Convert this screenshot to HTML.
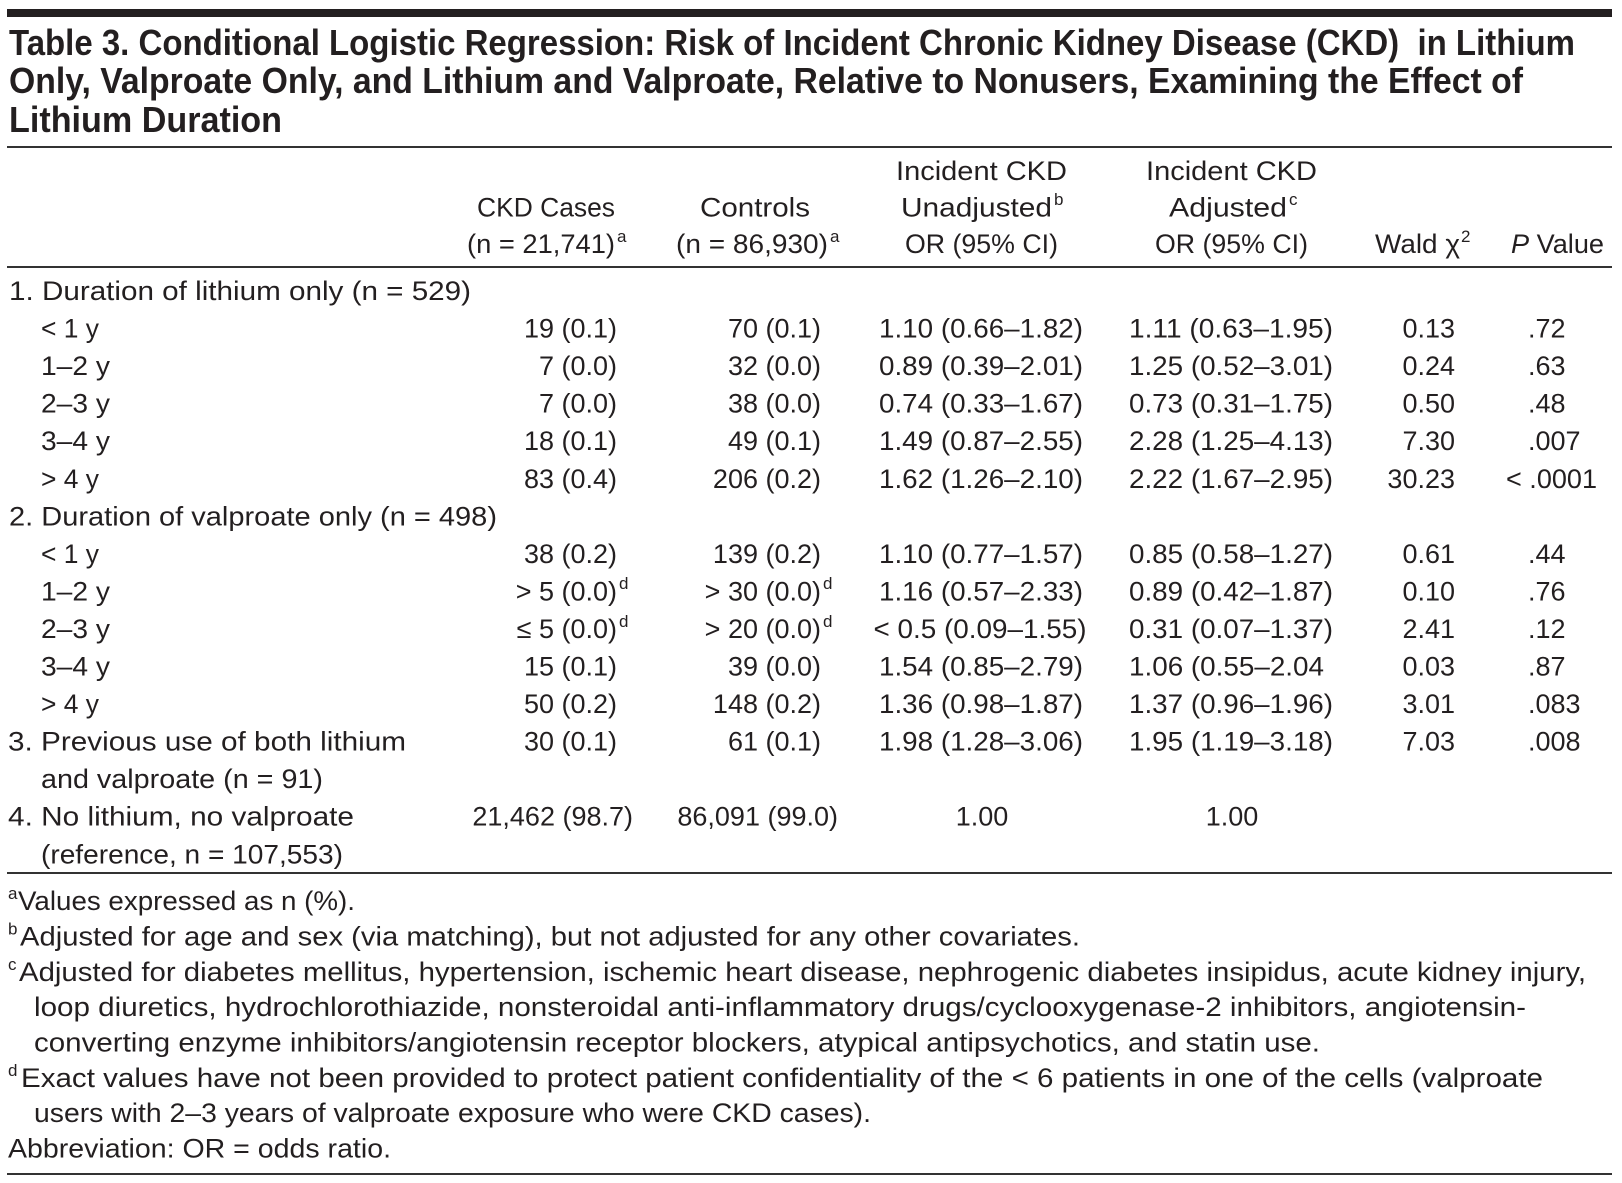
<!DOCTYPE html>
<html><head><meta charset="utf-8"><style>
html,body{margin:0;padding:0;background:#fff;}
svg{display:block;}
text{font-family:"Liberation Sans",sans-serif;fill:#231f20;font-size:27px;}
.t{font-weight:bold;font-size:36px;}
.s{font-size:17px;}
</style></head><body>
<svg width="1622" height="1183" viewBox="0 0 1622 1183" xmlns="http://www.w3.org/2000/svg">
<rect x="0" y="0" width="1622" height="1183" fill="#fff"/>
<rect x="7" y="9" width="1605" height="8" fill="#231f20"/>
<text class="t" x="9" y="55" textLength="1566" lengthAdjust="spacingAndGlyphs">Table 3. Conditional Logistic Regression: Risk of Incident Chronic Kidney Disease (CKD)&#160; in Lithium</text>
<text class="t" x="9" y="93" textLength="1514" lengthAdjust="spacingAndGlyphs">Only, Valproate Only, and Lithium and Valproate, Relative to Nonusers, Examining the Effect of</text>
<text class="t" x="9" y="132" textLength="273" lengthAdjust="spacingAndGlyphs">Lithium Duration</text>
<rect x="7" y="146" width="1605" height="2" fill="#333"/>

<!-- header -->
<text x="896" y="180" textLength="171" lengthAdjust="spacingAndGlyphs">Incident CKD</text>
<text x="901" y="216.5" textLength="151" lengthAdjust="spacingAndGlyphs">Unadjusted</text>
<text class="s" x="1054" y="205">b</text>
<text x="905" y="253" textLength="153" lengthAdjust="spacingAndGlyphs">OR (95% CI)</text>
<text x="1146" y="180" textLength="171" lengthAdjust="spacingAndGlyphs">Incident CKD</text>
<text x="1169" y="216.5" textLength="118" lengthAdjust="spacingAndGlyphs">Adjusted</text>
<text class="s" x="1289" y="205">c</text>
<text x="1155" y="253" textLength="153" lengthAdjust="spacingAndGlyphs">OR (95% CI)</text>
<text x="477" y="216.5" textLength="138" lengthAdjust="spacingAndGlyphs">CKD Cases</text>
<text x="467" y="253" textLength="148" lengthAdjust="spacingAndGlyphs">(n = 21,741)</text>
<text class="s" x="617" y="242">a</text>
<text x="700" y="216.5" textLength="110" lengthAdjust="spacingAndGlyphs">Controls</text>
<text x="676" y="253" textLength="152" lengthAdjust="spacingAndGlyphs">(n = 86,930)</text>
<text class="s" x="830" y="242">a</text>
<text x="1375" y="253" textLength="85" lengthAdjust="spacingAndGlyphs">Wald χ</text>
<text class="s" x="1461" y="242">2</text>
<text x="1511" y="253" textLength="93" lengthAdjust="spacingAndGlyphs"><tspan font-style="italic">P</tspan> Value</text>
<rect x="7" y="266" width="1605" height="2" fill="#333"/>

<!-- row labels -->
<text x="9" y="300" textLength="462" lengthAdjust="spacingAndGlyphs">1. Duration of lithium only (n = 529)</text>
<text x="41" y="337.6" textLength="58" lengthAdjust="spacingAndGlyphs">&lt; 1 y</text>
<text x="41" y="375.1" textLength="69" lengthAdjust="spacingAndGlyphs">1–2 y</text>
<text x="41" y="412.7" textLength="69" lengthAdjust="spacingAndGlyphs">2–3 y</text>
<text x="41" y="450.2" textLength="69" lengthAdjust="spacingAndGlyphs">3–4 y</text>
<text x="41" y="487.8" textLength="58" lengthAdjust="spacingAndGlyphs">&gt; 4 y</text>
<text x="9" y="525.3" textLength="488" lengthAdjust="spacingAndGlyphs">2. Duration of valproate only (n = 498)</text>
<text x="41" y="562.9" textLength="58" lengthAdjust="spacingAndGlyphs">&lt; 1 y</text>
<text x="41" y="600.4" textLength="69" lengthAdjust="spacingAndGlyphs">1–2 y</text>
<text x="41" y="638" textLength="69" lengthAdjust="spacingAndGlyphs">2–3 y</text>
<text x="41" y="675.5" textLength="69" lengthAdjust="spacingAndGlyphs">3–4 y</text>
<text x="41" y="713.1" textLength="58" lengthAdjust="spacingAndGlyphs">&gt; 4 y</text>
<text x="8" y="750.6" textLength="398" lengthAdjust="spacingAndGlyphs">3. Previous use of both lithium</text>
<text x="41" y="788.2" textLength="282" lengthAdjust="spacingAndGlyphs">and valproate (n = 91)</text>
<text x="8" y="825.7" textLength="346" lengthAdjust="spacingAndGlyphs">4. No lithium, no valproate</text>
<text x="41" y="863.3" textLength="302" lengthAdjust="spacingAndGlyphs">(reference, n = 107,553)</text>

<!-- cases column (right aligned 617) -->
<g text-anchor="end">
<text x="617" y="337.6">19 (0.1)</text>
<text x="617" y="375.1">7 (0.0)</text>
<text x="617" y="412.7">7 (0.0)</text>
<text x="617" y="450.2">18 (0.1)</text>
<text x="617" y="487.8">83 (0.4)</text>
<text x="617" y="562.9">38 (0.2)</text>
<text x="617" y="600.4">&gt; 5 (0.0)</text>
<text x="617" y="638">≤ 5 (0.0)</text>
<text x="617" y="675.5">15 (0.1)</text>
<text x="617" y="713.1">50 (0.2)</text>
<text x="617" y="750.6">30 (0.1)</text>
<text x="633" y="825.7">21,462 (98.7)</text>
</g>
<text class="s" x="619" y="589">d</text>
<text class="s" x="619" y="627">d</text>

<!-- controls column (right aligned 821) -->
<g text-anchor="end">
<text x="821" y="337.6">70 (0.1)</text>
<text x="821" y="375.1">32 (0.0)</text>
<text x="821" y="412.7">38 (0.0)</text>
<text x="821" y="450.2">49 (0.1)</text>
<text x="821" y="487.8">206 (0.2)</text>
<text x="821" y="562.9">139 (0.2)</text>
<text x="821" y="600.4">&gt; 30 (0.0)</text>
<text x="821" y="638">&gt; 20 (0.0)</text>
<text x="821" y="675.5">39 (0.0)</text>
<text x="821" y="713.1">148 (0.2)</text>
<text x="821" y="750.6">61 (0.1)</text>
<text x="838" y="825.7">86,091 (99.0)</text>
</g>
<text class="s" x="823" y="589">d</text>
<text class="s" x="823" y="627">d</text>

<!-- unadjusted OR (centered 981) -->
<g text-anchor="middle">
<text x="981" y="337.6" textLength="204" lengthAdjust="spacingAndGlyphs">1.10 (0.66–1.82)</text>
<text x="981" y="375.1" textLength="204" lengthAdjust="spacingAndGlyphs">0.89 (0.39–2.01)</text>
<text x="981" y="412.7" textLength="204" lengthAdjust="spacingAndGlyphs">0.74 (0.33–1.67)</text>
<text x="981" y="450.2" textLength="204" lengthAdjust="spacingAndGlyphs">1.49 (0.87–2.55)</text>
<text x="981" y="487.8" textLength="204" lengthAdjust="spacingAndGlyphs">1.62 (1.26–2.10)</text>
<text x="981" y="562.9" textLength="204" lengthAdjust="spacingAndGlyphs">1.10 (0.77–1.57)</text>
<text x="981" y="600.4" textLength="204" lengthAdjust="spacingAndGlyphs">1.16 (0.57–2.33)</text>
<text x="980" y="638" textLength="213" lengthAdjust="spacingAndGlyphs">&lt; 0.5 (0.09–1.55)</text>
<text x="981" y="675.5" textLength="204" lengthAdjust="spacingAndGlyphs">1.54 (0.85–2.79)</text>
<text x="981" y="713.1" textLength="204" lengthAdjust="spacingAndGlyphs">1.36 (0.98–1.87)</text>
<text x="981" y="750.6" textLength="204" lengthAdjust="spacingAndGlyphs">1.98 (1.28–3.06)</text>
<text x="982" y="825.7">1.00</text>
<text x="1232" y="825.7">1.00</text>
</g>

<!-- adjusted OR (left 1129) -->
<g>
<text x="1129" y="337.6" textLength="204" lengthAdjust="spacingAndGlyphs">1.11 (0.63–1.95)</text>
<text x="1129" y="375.1" textLength="204" lengthAdjust="spacingAndGlyphs">1.25 (0.52–3.01)</text>
<text x="1129" y="412.7" textLength="204" lengthAdjust="spacingAndGlyphs">0.73 (0.31–1.75)</text>
<text x="1129" y="450.2" textLength="204" lengthAdjust="spacingAndGlyphs">2.28 (1.25–4.13)</text>
<text x="1129" y="487.8" textLength="204" lengthAdjust="spacingAndGlyphs">2.22 (1.67–2.95)</text>
<text x="1129" y="562.9" textLength="204" lengthAdjust="spacingAndGlyphs">0.85 (0.58–1.27)</text>
<text x="1129" y="600.4" textLength="204" lengthAdjust="spacingAndGlyphs">0.89 (0.42–1.87)</text>
<text x="1129" y="638" textLength="204" lengthAdjust="spacingAndGlyphs">0.31 (0.07–1.37)</text>
<text x="1129" y="675.5" textLength="195" lengthAdjust="spacingAndGlyphs">1.06 (0.55–2.04</text>
<text x="1129" y="713.1" textLength="204" lengthAdjust="spacingAndGlyphs">1.37 (0.96–1.96)</text>
<text x="1129" y="750.6" textLength="204" lengthAdjust="spacingAndGlyphs">1.95 (1.19–3.18)</text>
</g>

<!-- Wald (right 1455) -->
<g text-anchor="end">
<text x="1455" y="337.6">0.13</text>
<text x="1455" y="375.1">0.24</text>
<text x="1455" y="412.7">0.50</text>
<text x="1455" y="450.2">7.30</text>
<text x="1455" y="487.8">30.23</text>
<text x="1455" y="562.9">0.61</text>
<text x="1455" y="600.4">0.10</text>
<text x="1455" y="638">2.41</text>
<text x="1455" y="675.5">0.03</text>
<text x="1455" y="713.1">3.01</text>
<text x="1455" y="750.6">7.03</text>
</g>

<!-- P value (dot at 1528) -->
<g>
<text x="1528" y="337.6">.72</text>
<text x="1528" y="375.1">.63</text>
<text x="1528" y="412.7">.48</text>
<text x="1528" y="450.2">.007</text>
<text x="1506" y="487.8" textLength="91" lengthAdjust="spacingAndGlyphs">&lt; .0001</text>
<text x="1528" y="562.9">.44</text>
<text x="1528" y="600.4">.76</text>
<text x="1528" y="638">.12</text>
<text x="1528" y="675.5">.87</text>
<text x="1528" y="713.1">.083</text>
<text x="1528" y="750.6">.008</text>
</g>

<rect x="7" y="872" width="1605" height="2" fill="#333"/>

<!-- footnotes -->
<text class="s" x="8" y="899">a</text>
<text x="18" y="910" textLength="337" lengthAdjust="spacingAndGlyphs">Values expressed as n (%).</text>
<text class="s" x="8" y="934.5">b</text>
<text x="20" y="945.5" textLength="1060" lengthAdjust="spacingAndGlyphs">Adjusted for age and sex (via matching), but not adjusted for any other covariates.</text>
<text class="s" x="8" y="970">c</text>
<text x="19" y="981" textLength="1567" lengthAdjust="spacingAndGlyphs">Adjusted for diabetes mellitus, hypertension, ischemic heart disease, nephrogenic diabetes insipidus, acute kidney injury,</text>
<text x="34" y="1016" textLength="1492" lengthAdjust="spacingAndGlyphs">loop diuretics, hydrochlorothiazide, nonsteroidal anti-inflammatory drugs/cyclooxygenase-2 inhibitors, angiotensin-</text>
<text x="34" y="1051.5" textLength="1286" lengthAdjust="spacingAndGlyphs">converting enzyme inhibitors/angiotensin receptor blockers, atypical antipsychotics, and statin use.</text>
<text class="s" x="8" y="1076">d</text>
<text x="21" y="1087" textLength="1522" lengthAdjust="spacingAndGlyphs">Exact values have not been provided to protect patient confidentiality of the &lt; 6 patients in one of the cells (valproate</text>
<text x="34" y="1122" textLength="837" lengthAdjust="spacingAndGlyphs">users with 2–3 years of valproate exposure who were CKD cases).</text>
<text x="8" y="1157.5" textLength="383" lengthAdjust="spacingAndGlyphs">Abbreviation: OR = odds ratio.</text>

<rect x="7" y="1173" width="1605" height="2" fill="#333"/>
</svg>
</body></html>
